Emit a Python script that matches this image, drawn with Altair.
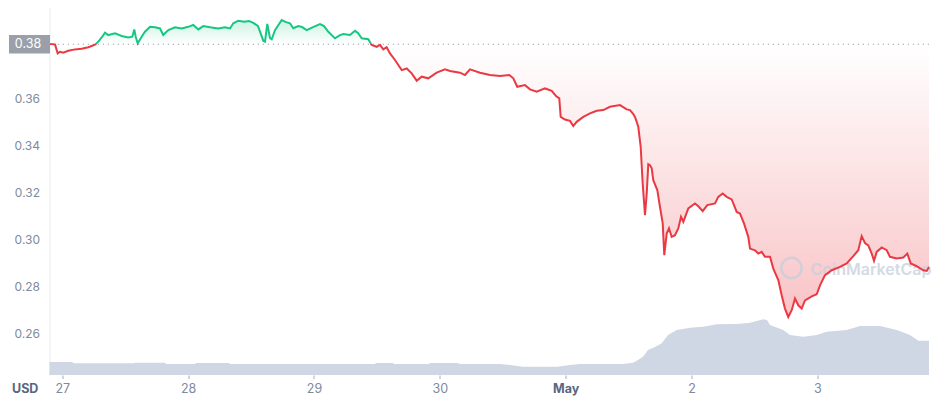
import pandas as pd
import altair as alt

# price, hours after 27 Apr 00:00
price_hours = [
    -2.44, -1.96, -1.39, -0.88, -0.44, 0.19, 1.14, 2.42, 3.70, 4.96,
    6.24, 6.87, 7.63, 8.14, 8.77, 10.05, 11.33, 12.59, 13.35, 13.73,
    14.00, 14.38, 15.14, 15.77, 16.73, 17.68, 18.64, 19.26, 20.22, 21.50,
    22.77, 24.03, 24.99, 25.94, 26.89, 28.17, 29.75, 31.03, 31.99, 32.62,
    33.57, 34.71,
    35.61, 36.43, 37.33, 38.34, 38.66, 39.10, 39.62, 39.94, 40.57, 41.85,
    42.67, 43.43, 44.06, 45.01, 45.72, 46.62, 47.82, 49.15, 49.92, 50.74,
    52.01, 52.97, 53.60, 54.87, 55.83, 56.40, 57.11, 58.36, 59.01, 59.97,
    60.60, 61.23, 61.87, 62.50, 63.46, 64.74, 65.69, 66.64, 67.60, 68.55,
    69.81, 71.41, 72.99,
    73.95, 75.86, 76.81, 77.76, 79.67, 81.58, 83.48, 85.26, 86.02, 86.78,
    88.25, 89.21, 90.48, 92.07, 93.35, 94.16, 94.79, 95.06, 95.88, 96.84,
    97.46, 98.11, 99.37, 100.65, 101.93, 103.19, 104.46, 106.37, 107.65, 108.28,
    108.91, 109.23, 109.56, 109.86, 110.32,
    110.70, 111.14, 111.47, 111.77, 112.09, 112.42, 112.72, 113.49, 114.00, 114.52,
    114.82, 115.28, 115.72, 116.23, 116.86, 117.49, 118.01, 118.45, 119.40, 120.68,
    121.31, 122.15, 123.02, 124.49, 125.12, 125.96, 126.72, 127.68, 128.63, 129.26,
    130.02, 130.84, 131.17, 132.12, 132.75, 133.40, 134.03, 134.99, 135.61, 136.57,
    137.21, 137.84, 138.47, 139.12, 139.75, 140.38, 141.03, 141.66, 142.94, 143.89,
    144.52, 145.47, 146.75, 148.33, 149.61, 150.87, 151.82, 152.47, 153.10, 153.73,
    154.38, 154.82, 155.33, 156.29, 157.24, 157.87, 159.15, 160.41, 161.17, 161.82,
    162.96, 164.22, 164.88, 165.31,
]
price_usd = [
    0.3830, 0.3830, 0.3828, 0.3790, 0.3797, 0.3793, 0.3801, 0.3807, 0.3810, 0.3816,
    0.3827, 0.3840, 0.3861, 0.3878, 0.3868, 0.3875, 0.3864, 0.3858, 0.3861, 0.3892,
    0.3861, 0.3833, 0.3861, 0.3882, 0.3903, 0.3901, 0.3896, 0.3868, 0.3889, 0.3901,
    0.3896, 0.3903, 0.3911, 0.3892, 0.3906, 0.3901, 0.3896, 0.3901, 0.3896, 0.3918,
    0.3929, 0.3925,
    0.3928, 0.3920, 0.3906, 0.3844, 0.3840, 0.3915, 0.3855, 0.3850, 0.3889, 0.3932,
    0.3923, 0.3918, 0.3897, 0.3906, 0.3902, 0.3889, 0.3902, 0.3915, 0.3906, 0.3882,
    0.3854, 0.3868, 0.3872, 0.3868, 0.3886, 0.3877, 0.3854, 0.3850, 0.3826, 0.3818,
    0.3826, 0.3807, 0.3816, 0.3790, 0.3762, 0.3719, 0.3726, 0.3705, 0.3674, 0.3691,
    0.3684, 0.3708, 0.3722,
    0.3715, 0.3708, 0.3698, 0.3722, 0.3708, 0.3698, 0.3694, 0.3698, 0.3684, 0.3648,
    0.3655, 0.3637, 0.3627, 0.3641, 0.3631, 0.3609, 0.3599, 0.3520, 0.3509, 0.3503,
    0.3481, 0.3499, 0.3520, 0.3535, 0.3546, 0.3549, 0.3563, 0.3570, 0.3552, 0.3549,
    0.3532, 0.3520, 0.3499, 0.3478, 0.3393,
    0.3237, 0.3102, 0.3194, 0.3319, 0.3315, 0.3301, 0.3251, 0.3209, 0.3137, 0.3067,
    0.2932, 0.3024, 0.3046, 0.3010, 0.3017, 0.3046, 0.3095, 0.3074, 0.3131, 0.3152,
    0.3140, 0.3119, 0.3145, 0.3152, 0.3180, 0.3194, 0.3180, 0.3169, 0.3116, 0.3109,
    0.3067, 0.3010, 0.2960, 0.2953, 0.2939, 0.2946, 0.2925, 0.2925, 0.2875, 0.2826,
    0.2762, 0.2705, 0.2669, 0.2698, 0.2748, 0.2719, 0.2705, 0.2740, 0.2757, 0.2766,
    0.2804, 0.2847, 0.2868, 0.2882, 0.2897, 0.2928, 0.2953, 0.3013, 0.2984, 0.2974,
    0.2939, 0.2908, 0.2946, 0.2965, 0.2953, 0.2925, 0.2918, 0.2922, 0.2939, 0.2897,
    0.2885, 0.2868, 0.2865, 0.2882,
]

# 24h volume (millions USD), same time base
vol_hours = [
    -2.44, 1.85, 2.23, 13.68, 13.86, 19.59, 19.78, 25.31, 25.50, 31.80,
    31.99, 59.64, 59.83, 63.07, 63.26, 69.93, 70.12, 75.46, 75.84, 83.48,
    85.39, 87.87, 94.35, 96.84, 98.74, 106.94, 108.85, 109.80, 110.76, 111.71,
    113.05, 114.33, 115.53, 117.19, 119.72, 122.20, 124.81, 128.63, 131.17, 133.70,
    134.41, 134.98, 137.52, 138.80, 141.33, 143.89, 145.79, 149.61, 152.14, 155.96,
    159.15, 161.69, 163.27, 165.31,
]
vol_musd = [
    52, 52, 47, 47, 49, 49, 44, 44, 48, 48,
    44, 44, 48, 48, 44, 44, 48, 48, 44, 44,
    40, 33, 33, 40, 44, 44, 49, 60, 73, 100,
    112, 127, 160, 180, 189, 193, 203, 204, 209, 223,
    220, 200, 180, 160, 153, 160, 173, 180, 196, 196,
    180, 160, 137, 137,
]

open_price = 0.3829
y_ticks = [0.26, 0.28, 0.30, 0.32, 0.34, 0.36, 0.38]
tick_days = [(4, 27), (4, 28), (4, 29), (4, 30), (5, 1), (5, 2), (5, 3)]

GREEN = "#16c784"
RED = "#ea3943"
GREY = "#808a9d"
DARK = "#58667e"
FONT = "Inter"

start = pd.Timestamp("2023-04-27")
price_df = pd.DataFrame({
    "time": start + pd.to_timedelta(price_hours, unit="h"),
    "price": price_usd,
})
price_df["open"] = open_price
vol_df = pd.DataFrame({
    "time": start + pd.to_timedelta(vol_hours, unit="h"),
    "volume": vol_musd,
})

# where the open price sits inside the line's bounding box
hi, lo = max(price_usd), min(price_usd)
cut = (hi - open_price) / (hi - lo)

line_grad = alt.Gradient(
    gradient="linear", x1=0, x2=0, y1=0, y2=1,
    stops=[
        alt.GradientStop(color=GREEN, offset=0),
        alt.GradientStop(color=GREEN, offset=cut),
        alt.GradientStop(color=RED, offset=cut),
        alt.GradientStop(color=RED, offset=1),
    ],
)
area_grad = alt.Gradient(
    gradient="linear", x1=0, x2=0, y1=0, y2=1,
    stops=[
        alt.GradientStop(color="rgba(22,199,132,0.22)", offset=0),
        alt.GradientStop(color="rgba(22,199,132,0)", offset=cut),
        alt.GradientStop(color="rgba(234,57,67,0)", offset=cut),
        alt.GradientStop(color="rgba(234,57,67,0.30)", offset=1),
    ],
)

x_enc = alt.X(
    "time:T", title=None,
    scale=alt.Scale(domain=[
        alt.DateTime(year=2023, month=4, date=26, hours=21, minutes=33, seconds=36),
        alt.DateTime(year=2023, month=5, date=3, hours=21, minutes=18, seconds=36),
    ]),
    axis=alt.Axis(
        values=[alt.DateTime(year=2023, month=m, date=d) for m, d in tick_days],
        labelExpr="date(datum.value) == 1 ? timeFormat(datum.value, '%b') : '' + date(datum.value)",
        labelFontWeight=alt.condition("date(datum.value) == 1", alt.value(700), alt.value(400)),
        labelColor=alt.condition("date(datum.value) == 1", alt.value(DARK), alt.value(GREY)),
        domain=False, grid=False, tickSize=3.5, tickColor="#a6acb8",
        labelPadding=4, labelFontSize=12.5, labelFont=FONT,
    ),
)

y_scale = alt.Scale(domain=[0.24226, 0.3983], nice=False, zero=False)
y_axis = alt.Axis(
    values=y_ticks,
    labelExpr="datum.value > 0.379 ? '' : format(datum.value, '.2f')",
    ticks=False, labelPadding=10, labelFontSize=12, labelFont=FONT, labelColor=GREY,
    gridColor="#eff2f5", domainColor="#e8ebf0",
)
y_enc = alt.Y("price:Q", title=None, scale=y_scale, axis=y_axis)

volume = alt.Chart(vol_df).mark_area(color="#cfd6e4", opacity=1).encode(
    x=x_enc,
    y=alt.Y("volume:Q", scale=alt.Scale(domain=[0, 1468]), axis=None),
)

area = alt.Chart(price_df).mark_area(color=area_grad, opacity=1).encode(
    x=x_enc, y=y_enc, y2=alt.Y2("open:Q"),
)

one = pd.DataFrame({"label": [f"{open_price:.2f}"]})

watermark = alt.Chart(one).mark_text(
    text="CoinMarketCap", align="left", baseline="middle",
    font=FONT, fontSize=16, fontWeight=600, color="#c6cedb", opacity=0.75,
).encode(x=alt.value(761), y=alt.value(262))

logo = alt.Chart(one).mark_point(
    shape="circle", filled=False, size=415, strokeWidth=2.5,
    color="#c6cedb", opacity=0.75,
).encode(x=alt.value(742), y=alt.value(260))

open_rule = alt.Chart(one).mark_rule(
    color="#9aa0ab", strokeDash=[1.2, 3.8], strokeWidth=1,
).encode(y=alt.Y(datum=open_price, scale=y_scale, axis=y_axis))

line = alt.Chart(price_df).mark_line(stroke=line_grad, strokeWidth=2).encode(
    x=x_enc, y=y_enc,
)

box = alt.Chart(one).mark_rect(color="#9a9faa").encode(
    x=alt.value(-40.5), x2=alt.value(0.5),
    y=alt.Y(datum=open_price + 0.0039, scale=y_scale, axis=y_axis),
    y2=alt.datum(open_price - 0.0039),
)

box_text = alt.Chart(one).mark_text(
    align="center", baseline="middle", font=FONT, fontSize=12.5, color="white",
).encode(
    x=alt.value(-21.5),
    y=alt.Y(datum=open_price, scale=y_scale, axis=y_axis),
    text="label:N",
)

usd = alt.Chart(one).mark_text(
    text="USD", align="center", baseline="middle",
    font=FONT, fontSize=12.5, fontWeight=700, color=DARK,
).encode(x=alt.value(-24.3), y=alt.value(380.8))

price_layers = alt.layer(area, watermark, logo, open_rule, line, box, box_text, usd)

chart = alt.layer(volume, price_layers).resolve_scale(y="independent").properties(
    width=879.5,
    height=367,
    padding={"left": 41.5, "top": 0, "right": 4, "bottom": 24},
    autosize=alt.AutoSizeParams(type="none"),
    background="white",
).configure_view(stroke=None)

chart.save("out.html", embed_options={"renderer": "svg", "actions": False})
